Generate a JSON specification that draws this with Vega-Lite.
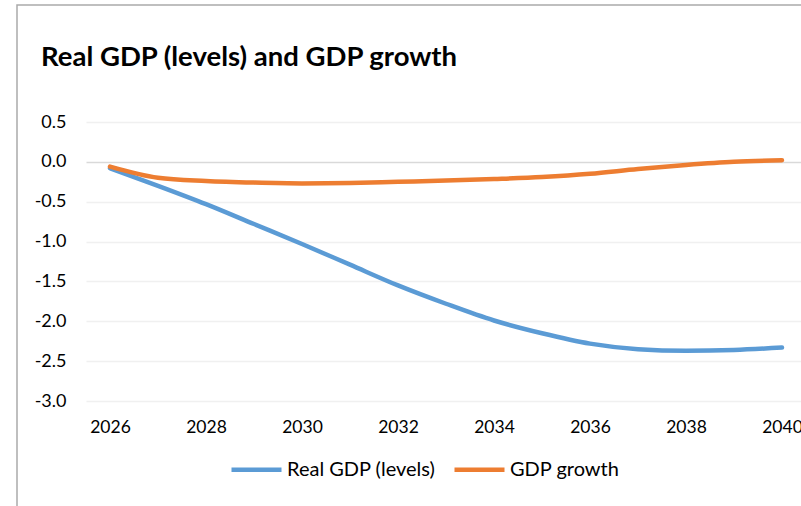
{
  "$schema": "https://vega.github.io/schema/vega-lite/v6.json",
  "autosize": {"type": "none"},
  "padding": {"left": 17, "top": 5, "right": 0, "bottom": 0},
  "width": 790,
  "height": 510,
  "background": "white",
  "config": {
    "view": {"stroke": "#ABABAB", "strokeWidth": 1.5},
    "font": "Lato"
  },
  "title": {
    "text": "Real GDP (levels) and GDP growth",
    "anchor": "start",
    "font": "Lato",
    "fontSize": 27.5,
    "fontWeight": "bold",
    "color": "#000000",
    "baseline": "alphabetic",
    "dx": 24,
    "dy": 92
  },
  "data": {
    "values": [
      {"year": 2026, "series": "Real GDP (levels)", "value": -0.08},
      {"year": 2027, "series": "Real GDP (levels)", "value": -0.30},
      {"year": 2028, "series": "Real GDP (levels)", "value": -0.53},
      {"year": 2029, "series": "Real GDP (levels)", "value": -0.78},
      {"year": 2030, "series": "Real GDP (levels)", "value": -1.03},
      {"year": 2031, "series": "Real GDP (levels)", "value": -1.29},
      {"year": 2032, "series": "Real GDP (levels)", "value": -1.55},
      {"year": 2033, "series": "Real GDP (levels)", "value": -1.78},
      {"year": 2034, "series": "Real GDP (levels)", "value": -1.99},
      {"year": 2035, "series": "Real GDP (levels)", "value": -2.15},
      {"year": 2036, "series": "Real GDP (levels)", "value": -2.28},
      {"year": 2037, "series": "Real GDP (levels)", "value": -2.35},
      {"year": 2038, "series": "Real GDP (levels)", "value": -2.37},
      {"year": 2039, "series": "Real GDP (levels)", "value": -2.36},
      {"year": 2040, "series": "Real GDP (levels)", "value": -2.33},
      {"year": 2026, "series": "GDP growth", "value": -0.06},
      {"year": 2027, "series": "GDP growth", "value": -0.20},
      {"year": 2028, "series": "GDP growth", "value": -0.24},
      {"year": 2029, "series": "GDP growth", "value": -0.26},
      {"year": 2030, "series": "GDP growth", "value": -0.27},
      {"year": 2031, "series": "GDP growth", "value": -0.265},
      {"year": 2032, "series": "GDP growth", "value": -0.25},
      {"year": 2033, "series": "GDP growth", "value": -0.235},
      {"year": 2034, "series": "GDP growth", "value": -0.215},
      {"year": 2035, "series": "GDP growth", "value": -0.19},
      {"year": 2036, "series": "GDP growth", "value": -0.15},
      {"year": 2037, "series": "GDP growth", "value": -0.09},
      {"year": 2038, "series": "GDP growth", "value": -0.04},
      {"year": 2039, "series": "GDP growth", "value": 0.0},
      {"year": 2040, "series": "GDP growth", "value": 0.02}
    ]
  },
  "mark": {"type": "line", "interpolate": "monotone", "strokeWidth": 4.5, "strokeCap": "round", "strokeJoin": "round"},
  "encoding": {
    "x": {
      "field": "year",
      "type": "quantitative",
      "scale": {"domain": [2025.5, 2040.5], "range": [69, 789], "nice": false, "zero": false},
      "axis": {
        "title": null,
        "values": [2026, 2028, 2030, 2032, 2034, 2036, 2038, 2040],
        "format": "d",
        "grid": false,
        "domain": false,
        "ticks": false,
        "labelPadding": 0,
        "offset": -97,
        "labelFont": "Lato",
        "labelFontSize": 17.5,
        "labelColor": "#000000"
      }
    },
    "y": {
      "field": "value",
      "type": "quantitative",
      "scale": {"domain": [-3, 0.5], "range": [396, 117], "nice": false, "zero": false},
      "axis": {
        "title": null,
        "values": [0.5, 0, -0.5, -1, -1.5, -2, -2.5, -3],
        "labelExpr": "replace(format(datum.value, '.1f'), '\u2212', '-')",
        "grid": true,
        "gridColor": {"condition": {"test": "datum.value === 0", "value": "#D9D9D9"}, "value": "#F0F0F0"},
        "gridWidth": 1.5,
        "domain": false,
        "ticks": false,
        "labelPadding": 0,
        "offset": -49,
        "labelFont": "Lato",
        "labelFontSize": 18,
        "labelColor": "#000000"
      }
    },
    "color": {
      "field": "series",
      "type": "nominal",
      "sort": ["Real GDP (levels)", "GDP growth"],
      "scale": {"domain": ["Real GDP (levels)", "GDP growth"], "range": ["#5B9BD5", "#ED7D31"]},
      "legend": {
        "title": null,
        "orient": "none",
        "direction": "horizontal",
        "legendX": 212,
        "legendY": 437,
        "symbolType": "stroke",
        "symbolSize": 2500,
        "symbolStrokeWidth": 4.5,
        "labelFont": "Lato",
        "labelFontSize": 20,
        "labelColor": "#000000",
        "labelOffset": 3,
        "columnPadding": 9
      }
    }
  }
}
